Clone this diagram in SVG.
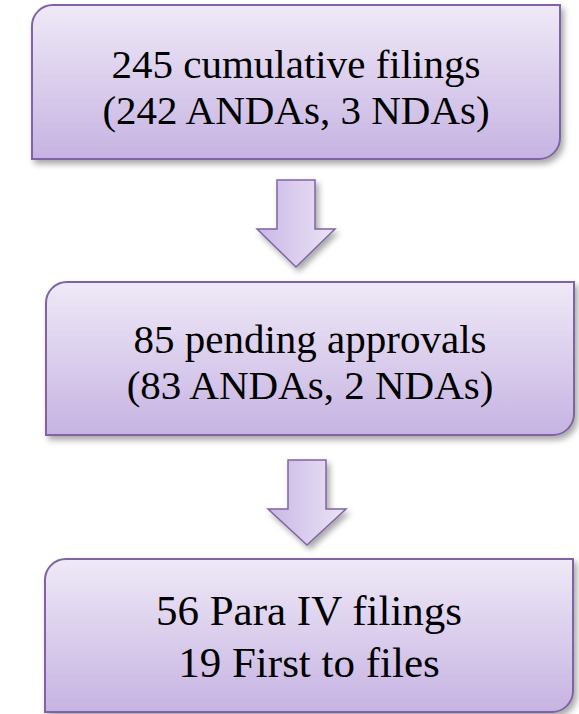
<svg xmlns="http://www.w3.org/2000/svg" width="579" height="714" viewBox="0 0 579 714">
<defs>
<linearGradient id="boxGrad" x1="0" y1="0" x2="0" y2="1">
<stop offset="0" stop-color="#efe9f7"/>
<stop offset="1" stop-color="#c6b3e2"/>
</linearGradient>
<linearGradient id="arrGrad" x1="0" y1="0" x2="1" y2="0">
<stop offset="0" stop-color="#c9b7e6"/>
<stop offset="1" stop-color="#ebe4f5"/>
</linearGradient>
<filter id="shadow" x="-10%" y="-10%" width="125%" height="130%">
<feGaussianBlur in="SourceAlpha" stdDeviation="3"/>
<feOffset dx="3" dy="4" result="b"/>
<feComponentTransfer><feFuncA type="linear" slope="0.35"/></feComponentTransfer>
<feMerge><feMergeNode/><feMergeNode in="SourceGraphic"/></feMerge>
</filter>
</defs>
<style>
.box{fill:url(#boxGrad);stroke:#8064a2;stroke-width:2;filter:url(#shadow)}
.arr{fill:url(#arrGrad);stroke:#8064a2;stroke-width:1.5;stroke-linejoin:miter;filter:url(#shadow)}
.t{font-family:"Liberation Serif","DejaVu Serif",serif;font-size:41px;fill:#000;text-anchor:middle}
.t3{font-size:43px}
</style>
<g id="connectors">
<path class="arr" d="M277,180 H315 V229 H335 L296,267 L257,229 H277 Z"/>
<path class="arr" d="M288,460 H326 V509 H346 L307,545 L268,509 H288 Z"/>
</g>
<g id="node1">
<path class="box" d="M53,5 H560 V138 A21,21 0 0 1 539,159 H32 V26 A21,21 0 0 1 53,5 Z"/>
<text class="t" x="296" y="78">245 cumulative filings</text>
<text class="t" x="296" y="124">(242 ANDAs, 3 NDAs)</text>
</g>
<g id="node2">
<path class="box" d="M67,282 H574 V414 A21,21 0 0 1 553,435 H46 V303 A21,21 0 0 1 67,282 Z"/>
<text class="t" x="310" y="353">85 pending approvals</text>
<text class="t" x="310" y="399">(83 ANDAs, 2 NDAs)</text>
</g>
<g id="node3">
<path class="box" d="M66,559 H573 V691 A21,21 0 0 1 552,712 H45 V580 A21,21 0 0 1 66,559 Z"/>
<text class="t t3" x="309" y="625">56 Para IV filings</text>
<text class="t t3" x="309" y="677">19 First to files</text>
</g>
</svg>
